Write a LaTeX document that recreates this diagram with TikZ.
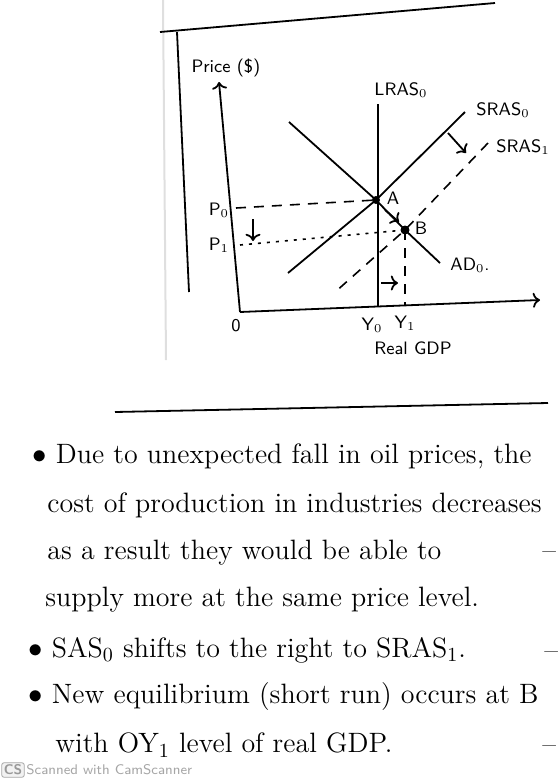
\documentclass[tikz,border=0pt]{standalone}
\usepackage{tikz}
\usetikzlibrary{arrows.meta}

\tikzset{
  curve/.style={line width=0.9pt},
  guide/.style={line width=0.8pt, dash pattern=on 5pt off 4pt},
  dotguide/.style={line width=0.8pt, dash pattern=on 1.5pt off 3pt},
  lbl/.style={font=\sffamily\small, inner sep=1pt},
  notes/.style={font=\fontsize{14}{16}\selectfont, anchor=west, inner sep=0pt},
}

\begin{document}
\begin{tikzpicture}[x=0.5pt,y=-0.5pt]
        \useasboundingbox (0,0) rectangle (560,783);

        % Paper edge and frame
        \draw[gray!25, line width=1pt] (163,0) -- (166,360);
        \draw[curve] (160,32) -- (495,3);
        \draw[curve] (177,32) -- (189,292);

        % Axes
        \coordinate (O) at (240,312);
        \coordinate (ytip) at (219,82);
        \coordinate (xtip) at (540,300);
        \draw[curve,->] (O) -- (ytip);
        \draw[curve,->] (O) -- (xtip);
        \node[lbl] (price) at (226,68) {Price (\$)};
        \node[lbl] (zero) at (236,326) {0};
        \node[lbl] (gdp) at (413,348) {Real GDP};

        % Equilibrium points
        \coordinate (A) at (376,200);
        \coordinate (B) at (405,230);
        \coordinate (Y0) at (378,307);
        \coordinate (Y1) at (405,306);
        \coordinate (lrtop) at (378,104);
        \coordinate (s0top) at (465,112);
        \coordinate (s0bot) at (288,273);
        \coordinate (s1top) at (488,143);
        \coordinate (s1bot) at (334,293);
        \coordinate (adtop) at (289,122);
        \coordinate (adbot) at (440,263);

        % Curves
        \draw[curve] (lrtop) -- (Y0);
        \draw[curve] (s0top) -- (A) -- (s0bot);
        \draw[curve] (adtop) -- (A) -- (B) -- (adbot);
        \draw[guide] (s1top) -- (B) -- (s1bot);
        \fill (A) circle (4);
        \fill (B) circle (4.5);

        \node[lbl] (lras) at (401,90) {LRAS$_0$};
        \node[lbl] (sras0) at (503,110) {SRAS$_0$};
        \node[lbl] (sras1) at (523,147) {SRAS$_1$};
        \node[lbl] (ad0) at (470,265) {AD$_0$.};
        \node[lbl] (la) at (393,198) {A};
        \node[lbl] (lb) at (421,228) {B};
        \node[lbl] (ly0) at (372,325) {Y$_0$};
        \node[lbl] (ly1) at (405,323) {Y$_1$};

        % Price levels
        \node[lbl] (p0) at (219,210) {P$_0$};
        \node[lbl] (p1) at (219,245) {P$_1$};
        \coordinate (p0end) at (236,208);
        \coordinate (p1end) at (240,245);
        \draw[guide] (p0end) -- (A);
        \draw[dotguide] (p1end) -- (B);
        \draw[guide] (B) -- (Y1);

        % Shift arrows
        \coordinate (sh1) at (448,133);
        \coordinate (sh2) at (466,153);
        \draw[curve,->] (sh1) -- (sh2);
        \coordinate (pd1) at (253,219);
        \coordinate (pd2) at (253,241);
        \draw[curve,->] (pd1) -- (pd2);
        \coordinate (qr1) at (381,283);
        \coordinate (qr2) at (398,283);
        \draw[curve,->] (qr1) -- (qr2);
        \coordinate (ab1) at (385,210);
        \coordinate (ab2) at (399,222);
        \draw[curve,->] (ab1) -- (ab2);

        % Notes below
        \draw[curve] (115,412) -- (548,403);
        \node[notes] (n1) at (32,456) {$\bullet$ Due to unexpected fall in oil prices, the};
        \node[notes] (n2) at (47,505) {cost of production in industries decreases};
        \node[notes] (n3) at (47,553) {as a result they would be able to};
        \node[notes] (n4) at (45,600) {supply more at the same price level.};
        \node[notes] (n5) at (28,650) {$\bullet$ SAS$_0$ shifts to the right to SRAS$_1$.};
        \node[notes] (n6) at (28,697) {$\bullet$ New equilibrium (short run) occurs at B};
        \node[notes] (n7) at (55,745) {with OY$_1$ level of real GDP.};
        \node[notes] (d3) at (542,556) {--};
        \node[notes] (d5) at (544,656) {--};
        \node[notes] (d7) at (542,750) {--};

        % Scanner mark
        \node[draw=gray!70, fill=gray!10, rounded corners=1pt, inner sep=1pt,
              font=\sffamily\bfseries\scriptsize, text=gray!80] (cs) at (13,770) {CS};
        \node[anchor=west, font=\sffamily\fontsize{7}{8}\selectfont, text=gray!70, inner sep=0pt]
              (scan) at (26,770) {Scanned with CamScanner};
    \end{tikzpicture}
\end{document}
